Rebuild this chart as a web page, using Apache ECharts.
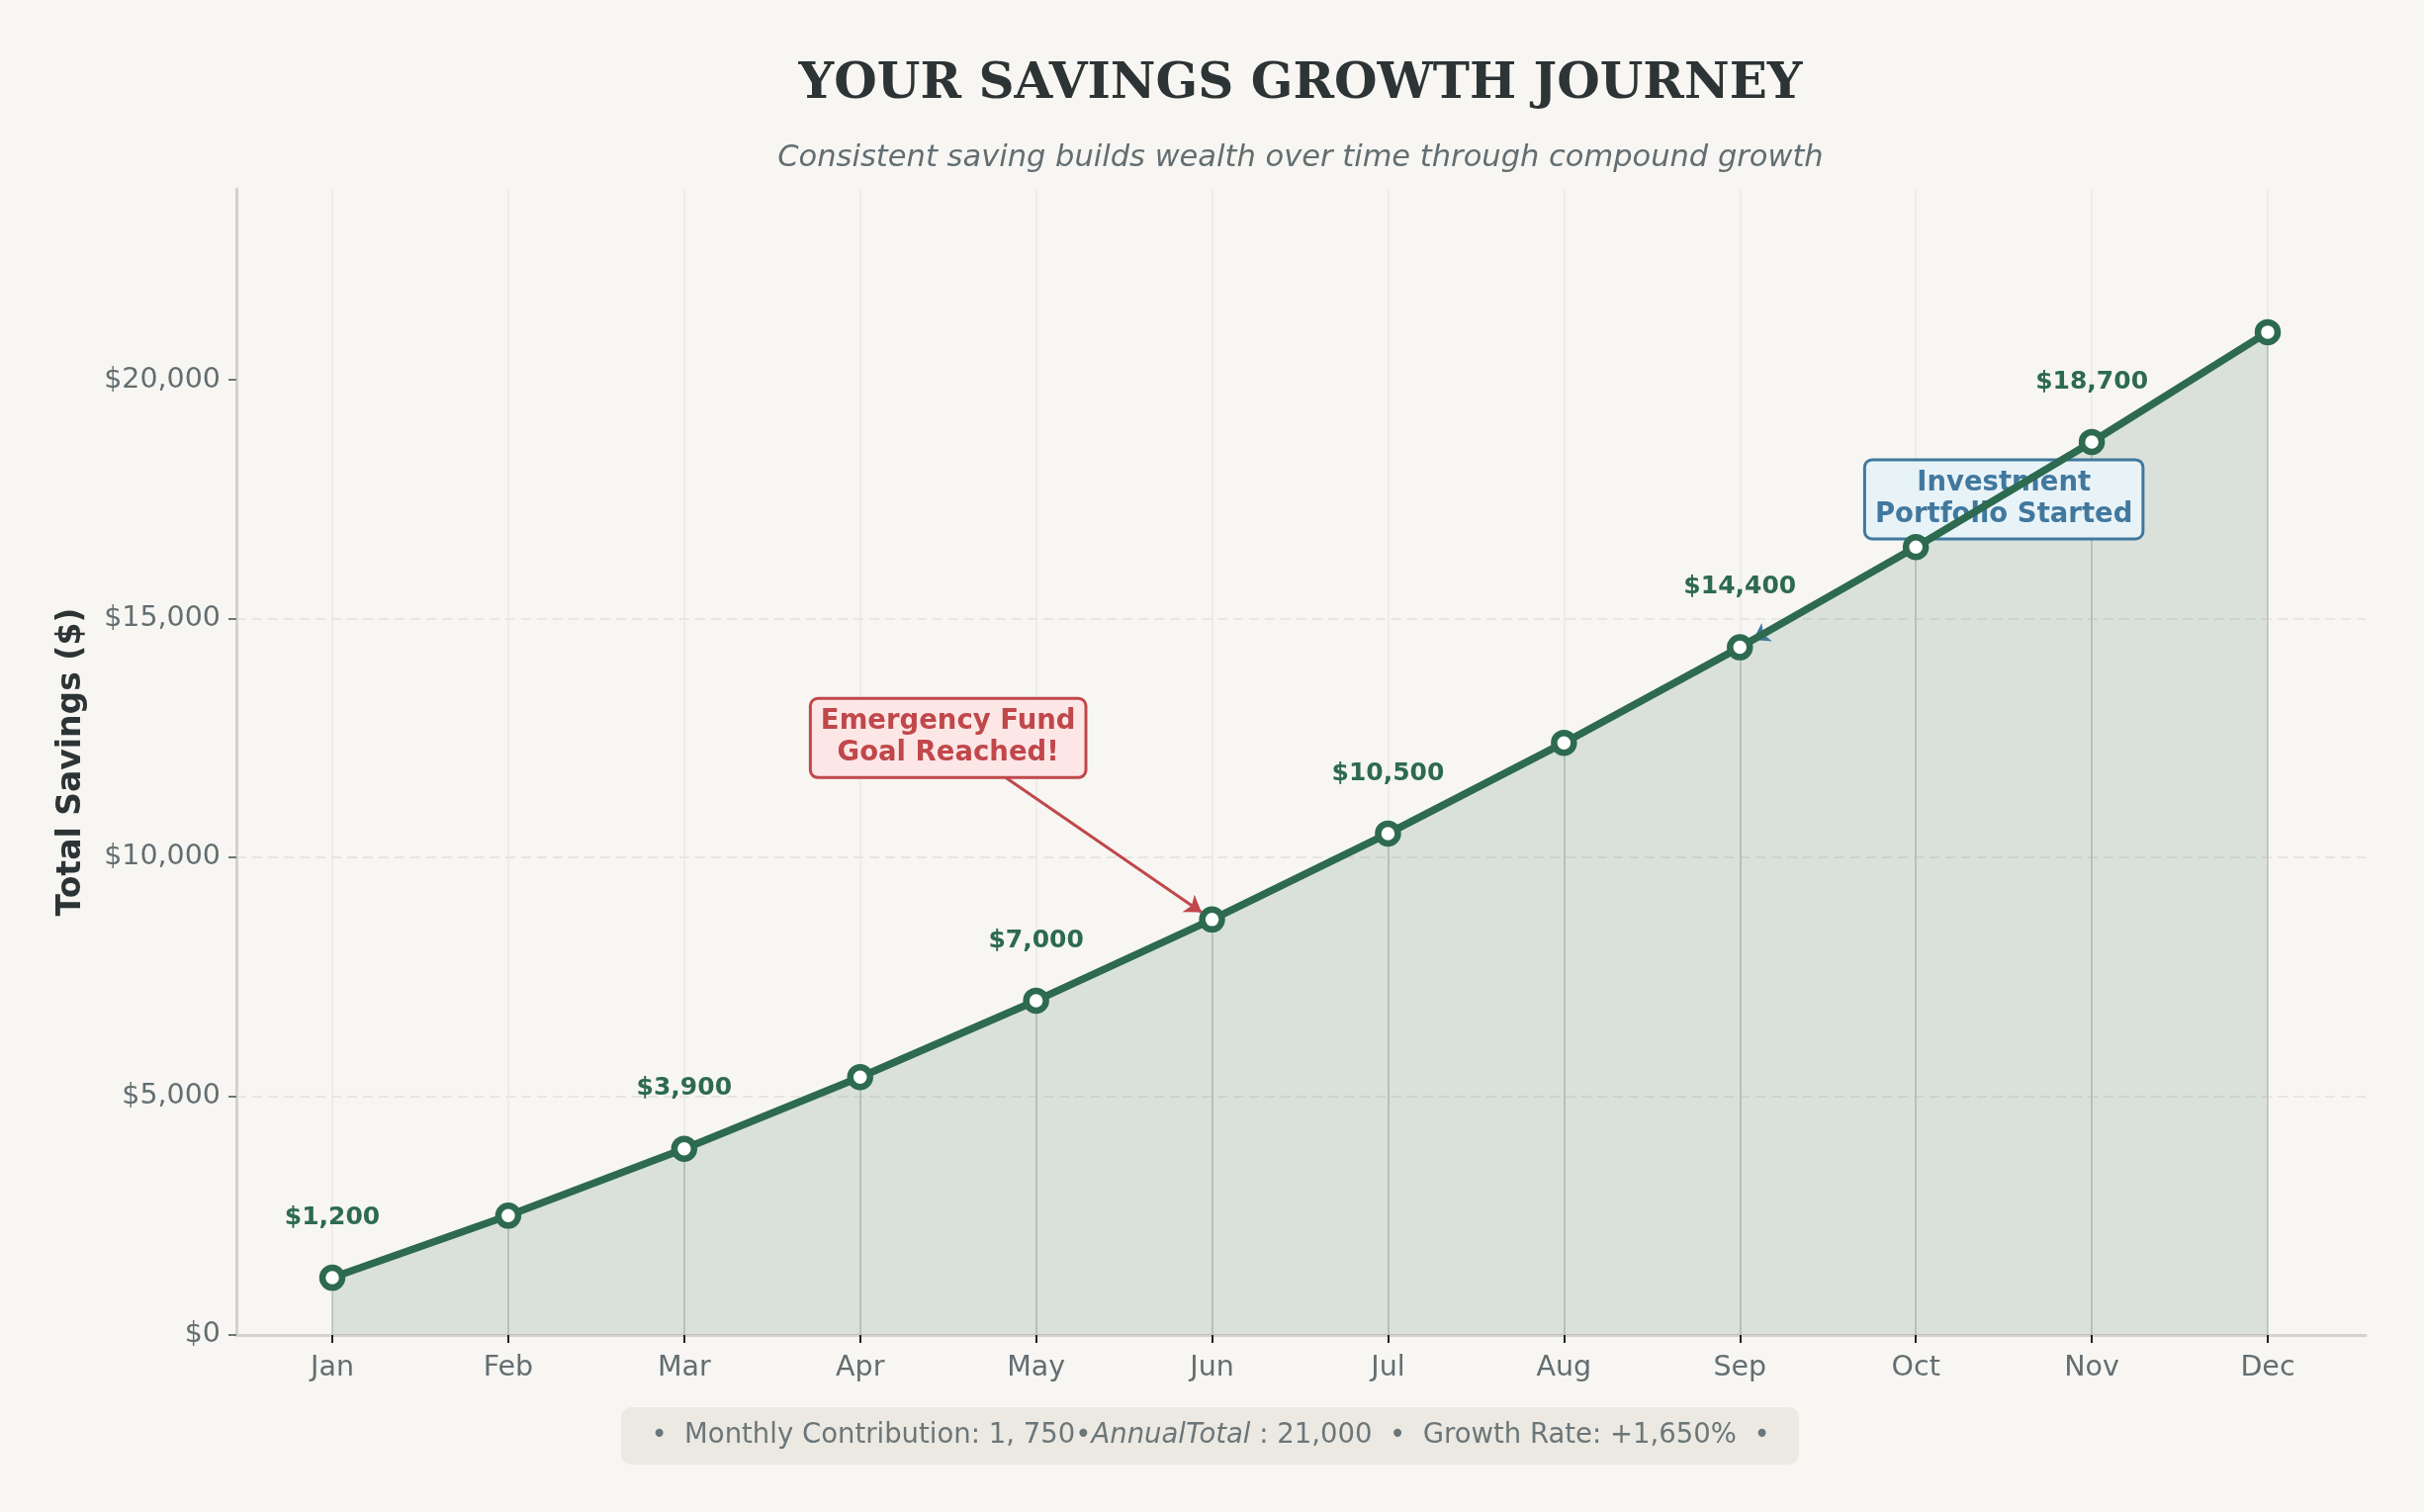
<!DOCTYPE html>
<html>
<head>
<meta charset="utf-8">
<script src="https://cdn.jsdelivr.net/npm/echarts@6.0.0/dist/echarts.min.js"></script>
<style>
  html, body { margin: 0; padding: 0; background: #f7f6f2; }
  #chart { width: 2451px; height: 1529px; }
</style>
</head>
<body>
<div id="chart"></div>
<script>
// data
var months = ['Jan', 'Feb', 'Mar', 'Apr', 'May', 'Jun', 'Jul', 'Aug', 'Sep', 'Oct', 'Nov', 'Dec'];
var savings = [1200, 2500, 3900, 5400, 7000, 8700, 10500, 12400, 14400, 16500, 18700, 21000];
var yTicks = [0, 5000, 10000, 15000, 20000];
var yMax = 24000;

// annotations: [text, box x (month index), box y, target month index]
var emergencyNote = ['Emergency Fund\nGoal Reached!', 3.5, 12500, 5];
var investNote = ['Investment\nPortfolio Started', 9.5, 17500, 8];

var GREEN = '#2d6a4f';
var FONT = 'DejaVu Sans';

function money(v) {
    return '$' + v.toLocaleString('en-US');
}

// arrow from box centre towards the point, stopping a little short of the marker
function arrow(note, frac) {
    var tx = note[3], ty = savings[note[3]];
    return [
        { coord: [note[1], note[2]] },
        { coord: [note[1] + (tx - note[1]) * frac, note[2] + (ty - note[2]) * frac] }
    ];
}

var points = savings.map(function (v, i) { return [i, v]; });

var mainData = savings.map(function (v, i) {
    return { value: [i, v], label: { show: i % 2 === 0 } };
});

var dropLines = savings.map(function (v, i) {
    return [{ coord: [i, 0] }, { coord: [i, v] }];
});

var chart = echarts.init(document.getElementById('chart'));

var option = {
    backgroundColor: '#f7f6f2',
    animation: false,
    grid: [
        // outer frame (spines and horizontal grid)
        { left: 239, right: 59, top: 191, bottom: 179 },
        // data area (months from Jan to Dec)
        { left: 336, right: 158, top: 191, bottom: 179 }
    ],
    xAxis: [
        {
            gridIndex: 0, type: 'value', min: 0, max: 1,
            axisLine: { show: true, lineStyle: { color: '#d6d1ca', width: 3 } },
            axisTick: { show: false }, axisLabel: { show: false }, splitLine: { show: false }
        },
        {
            gridIndex: 1, type: 'value', min: 0, max: 11, interval: 1,
            axisLine: { show: false },
            axisTick: { show: true, length: 8, lineStyle: { color: '#222', width: 2 } },
            axisLabel: {
                margin: 19, fontSize: 28.5, color: '#636e72', fontFamily: FONT,
                formatter: function (v) { return months[v] || ''; }
            },
            splitLine: { show: true, lineStyle: { color: '#ebe9e4', width: 1.5 } }
        }
    ],
    yAxis: [
        {
            gridIndex: 0, type: 'value', min: 0, max: yMax, interval: 5000,
            name: 'Total Savings ($)', nameLocation: 'middle', nameGap: 150, nameRotate: 90,
            nameTextStyle: { fontSize: 33, fontWeight: 'bold', color: '#2d3436', fontFamily: FONT },
            axisLine: { show: true, lineStyle: { color: '#d6d1ca', width: 3 } },
            axisTick: { show: true, length: 8, customValues: yTicks, lineStyle: { color: '#6b7679', width: 2 } },
            axisLabel: {
                margin: 16, fontSize: 28.5, color: '#636e72', fontFamily: FONT,
                customValues: yTicks,
                formatter: function (v) { return yTicks.indexOf(v) >= 0 ? money(v) : ''; }
            },
            splitLine: {
                show: true, showMinLine: false, showMaxLine: false,
                lineStyle: { color: '#e9e6e0', width: 2, type: [10, 6] }
            }
        },
        {
            gridIndex: 1, type: 'value', min: 0, max: yMax, show: false,
            splitLine: { show: false }
        }
    ],
    series: [
        {
            // drop lines under the fill
            type: 'line', xAxisIndex: 1, yAxisIndex: 1, data: [], z: 1, silent: true,
            markLine: {
                z: 1, silent: true, symbol: 'none', label: { show: false },
                lineStyle: { color: '#cdd1ce', width: 2, type: 'solid' },
                data: dropLines
            }
        },
        {
            // area fill
            type: 'line', xAxisIndex: 1, yAxisIndex: 1, z: 2, silent: true,
            data: points, symbol: 'none',
            lineStyle: { width: 0 },
            areaStyle: { color: 'rgba(45,106,79,0.15)', opacity: 1 }
        },
        {
            type: 'line', xAxisIndex: 1, yAxisIndex: 1, data: [], z: 3, silent: true,
            markLine: {
                z: 3, silent: true, symbol: ['none', 'arrow'], symbolSize: 16, label: { show: false },
                lineStyle: { color: '#41789e', width: 3, type: 'solid' },
                data: [arrow(investNote, 0.95)]
            },
            markPoint: {
                z: 3, silent: true, symbol: 'rect', symbolSize: 0,
                data: [{
                    coord: [investNote[1], investNote[2]],
                    label: {
                        show: true, formatter: investNote[0], position: 'inside',
                        fontSize: 27.5, fontWeight: 'bold', lineHeight: 32, color: '#41789e', fontFamily: FONT,
                        backgroundColor: '#e8f3f8', borderColor: '#41789e', borderWidth: 3,
                        borderRadius: 6, padding: [7, 9, 6, 9], align: 'center'
                    }
                }]
            }
        },
        {
            name: 'Savings', type: 'line', xAxisIndex: 1, yAxisIndex: 1, z: 4,
            data: mainData,
            symbol: 'circle', symbolSize: 20,
            itemStyle: { color: '#ffffff', borderColor: GREEN, borderWidth: 6.5 },
            lineStyle: { color: GREEN, width: 7.5 },
            label: {
                position: 'top', distance: 35, fontSize: 25, fontWeight: 'bold',
                color: GREEN, fontFamily: FONT,
                formatter: function (p) { return money(p.value[1]); }
            }
        },
        {
            type: 'line', xAxisIndex: 1, yAxisIndex: 1, data: [], z: 5, silent: true,
            markLine: {
                z: 5, silent: true, symbol: ['none', 'arrow'], symbolSize: 16, label: { show: false },
                lineStyle: { color: '#c0474a', width: 3, type: 'solid' },
                data: [arrow(emergencyNote, 0.96)]
            },
            markPoint: {
                z: 6, silent: true, symbol: 'rect', symbolSize: 0,
                data: [{
                    coord: [emergencyNote[1], emergencyNote[2]],
                    label: {
                        show: true, formatter: emergencyNote[0], position: 'inside',
                        fontSize: 27.5, fontWeight: 'bold', lineHeight: 32, color: '#c0474a', fontFamily: FONT,
                        backgroundColor: '#fde6e6', borderColor: '#c0474a', borderWidth: 3,
                        borderRadius: 6, padding: [7, 9, 6, 9], align: 'center'
                    }
                }]
            }
        }
    ],
    graphic: [
        {
            type: 'text', x: 1315, y: 86,
            style: {
                text: 'YOUR SAVINGS GROWTH JOURNEY', fill: '#2d3436',
                font: 'bold 50px "DejaVu Serif"', align: 'center', verticalAlign: 'middle'
            }
        },
        {
            type: 'text', x: 1315, y: 160,
            style: {
                text: 'Consistent saving builds wealth over time through compound growth', fill: '#636e72',
                font: 'italic 30.5px "DejaVu Sans"', align: 'center', verticalAlign: 'middle'
            }
        },
        {
            type: 'rect', shape: { x: 628, y: 1423, width: 1191, height: 58, r: 10 },
            style: { fill: '#ece9e2' }
        },
        {
            type: 'text', x: 1224, y: 1452,
            style: {
                text: '{n|•  Monthly Contribution: 1, 750•}{i|AnnualTotal}{n| : 21,000  •  Growth Rate: +1,650%  •}',
                align: 'center', verticalAlign: 'middle',
                rich: {
                    n: { fontSize: 27.5, fontFamily: FONT, fill: '#6b7679' },
                    i: { fontSize: 27.5, fontFamily: FONT, fontStyle: 'italic', fill: '#6b7679' }
                }
            }
        }
    ]
};

chart.setOption(option);
</script>
</body>
</html>
